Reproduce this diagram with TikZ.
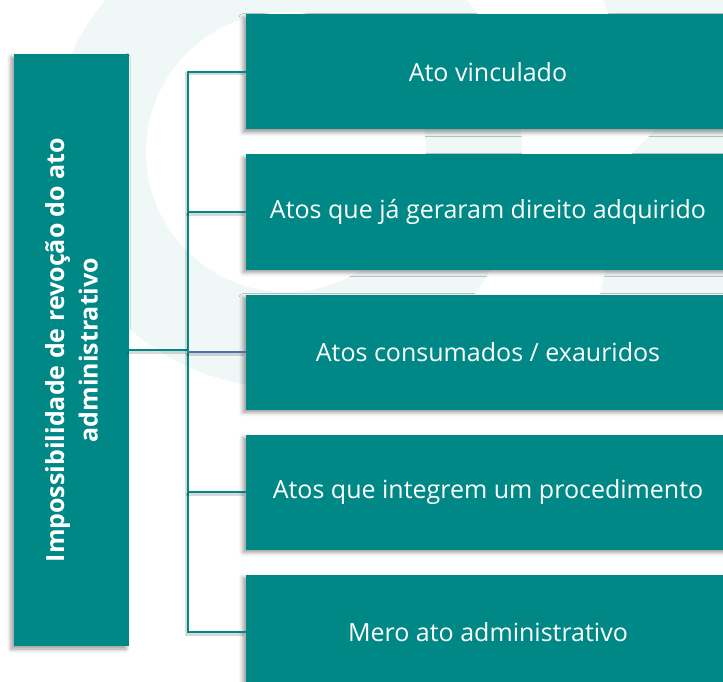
\documentclass[tikz,border=0pt]{standalone}
\usepackage{fontspec}
\setmainfont{Open Sans}
\usetikzlibrary{shadows.blur}
\definecolor{teal1}{RGB}{0,136,134}
\definecolor{wm}{RGB}{239,247,247}
\definecolor{blueline}{RGB}{72,116,168}
\begin{document}
\begin{tikzpicture}[x=1pt,y=-1pt,
  shad/.style={blur shadow={shadow xshift=-3pt, shadow yshift=-3pt, shadow blur radius=4pt, shadow opacity=40}},
  box/.style={fill=teal1, draw=none, shad, minimum width=484pt, minimum height=115pt, inner sep=0pt, text=white, font=\fontsize{25}{30}\selectfont},
  lbox/.style={fill=teal1, draw=none, shad, minimum width=115pt, minimum height=592pt, inner sep=0pt},
  ltext/.style={rotate=90, align=center, text=white, inner sep=0pt, font=\bfseries\fontsize{25}{33.5}\selectfont},
  conn/.style={draw=teal1, line width=2.5pt, preaction={draw=black, draw opacity=0.15, line width=3pt, transform canvas={shift={(-2pt,-2pt)}}}},
  bconn/.style={draw=blueline, line width=2.5pt, preaction={draw=black, draw opacity=0.15, line width=3pt, transform canvas={shift={(-2pt,-2pt)}}}},
]
\useasboundingbox (0,0) rectangle (723,682);
\clip (0,0) rectangle (723,682);
% watermark
\fill[wm, even odd rule] (286,152) circle (236) (286,152) circle (140);
\fill[wm] (603,0) -- (723,0) -- (723,294) -- (600,294) -- (632,154) -- (655,130) -- cycle;
% nodes
\node[lbox] (L) at (71.5,350) {};
\node[ltext] (Lt) at (L.center) {Impossibilidade de revoção do ato\\administrativo};
\coordinate (J) at (188,350);
\node[box] (B1) at (488,72) {Ato vinculado};
\node[box] (B2) at (488,212) {Atos que já geraram direito adquirido};
\node[box] (B3) at (488,352) {Atos consumados / exauridos};
\node[box] (B4) at (488,492) {Atos que integrem um procedimento};
\node[box] (B5) at (488,632) {Mero ato administrativo};
% connectors
\begin{scope}[on background layer/.style={}]
\draw[conn] (L.east |- J) -- (J);
\draw[conn] (B1.west) -- (B1.west -| J) -- (B5.west -| J) -- (B5.west);
\draw[conn] (B2.west -| J) -- (B2.west);
\draw[conn] (B4.west -| J) -- (B4.west);
\draw[bconn] (B3.west -| J) -- (B3.west);
\end{scope}
\end{tikzpicture}
\end{document}
